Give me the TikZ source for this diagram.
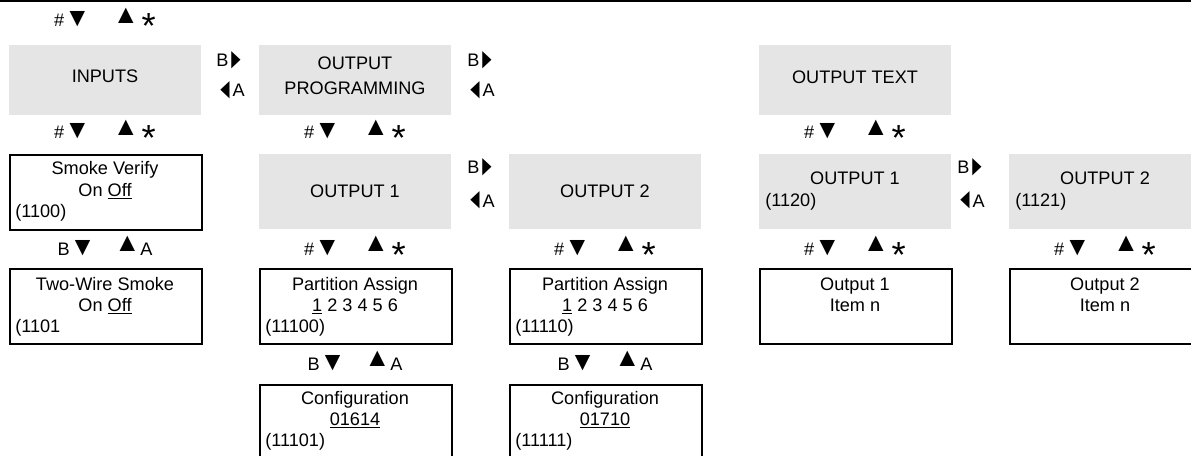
\documentclass[tikz,border=0pt]{standalone}
\usepackage{fontspec}
\setmainfont{Liberation Sans}
\usepackage{graphicx}
\usetikzlibrary{positioning}

\newcommand{\starkey}{\raisebox{-9pt}{\scalebox{2.0}{*}}}
\newcommand{\dnT}{\scalebox{1.45}{▼}}
\newcommand{\upT}{\raisebox{2.5pt}{\scalebox{1.45}{▲}}}
\newcommand{\rtT}{\raisebox{-1pt}{\scalebox{0.85}[1.6]{►}}}
\newcommand{\ltT}{\raisebox{-1pt}{\scalebox{0.85}[1.6]{◄}}}
\newcommand{\hashkeys}{\#\dnT\hspace{17pt}\upT\hspace{2pt}\starkey}
\newcommand{\bakeys}{B\dnT\hspace{14pt}\upT A}

\begin{document}
\begin{tikzpicture}[x=0.75pt,y=-0.75pt,font=\fontsize{13.6}{15.75}\selectfont,
  menu/.style={fill=gray!20,anchor=north west,minimum width=144pt,minimum height=56.25pt,inner sep=0pt},
  field/.style={draw,line width=1.5pt,anchor=north west,minimum width=144pt,minimum height=56.25pt,inner sep=0pt},
  ln/.style={anchor=base,inner sep=0pt},
  code/.style={anchor=base west,inner sep=0pt}]
\useasboundingbox (0,0) rectangle (1191,456);
\clip (0,0) rectangle (1191,456);
\coordinate (ruleL) at (0,1); \coordinate (ruleR) at (1191,1);
\draw[line width=2.25pt] (ruleL) -- (ruleR);
\node[ln] (k0) at (105,27) {\hashkeys};
% Top menu level.
\node[menu,minimum height=52.5pt] (inputs) at (9,45) {};
\node[ln] (inputsT) at (105,83) {INPUTS};
\node[menu,minimum height=52.5pt] (prog) at (259,45) {};
\node[ln] (progT) at (355,70) {OUTPUT};
\node[ln] (progU) at (355,95) {PROGRAMMING};
\node[menu,minimum height=52.5pt] (outtext) at (759,45) {};
\node[ln] (outtextT) at (855,84) {OUTPUT TEXT};
\node[code] (bA) at (216,67) {B\rtT}; \node[code] (aA) at (217,97) {\ltT A};
\node[code] (bB) at (467,67) {B\rtT}; \node[code] (aB) at (467,97) {\ltT A};
% Second level.
\node[ln] (k1) at (105,139) {\hashkeys};
\node[ln] (k2) at (355,139) {\hashkeys};
\node[ln] (k3) at (855,139) {\hashkeys};
\node[field] (smoke) at (9,154) {};
\node[ln] (smokeT) at (105,175) {Smoke Verify};
\node[ln] (smokeV) at (105,196) {On \underline{Off}};
\node[code] (smokeC) at (15,217) {(1100)};
\node[menu] (out1) at (259,154) {};
\node[ln] (out1T) at (355,197) {OUTPUT 1};
\node[code] (bC) at (467,174) {B\rtT}; \node[code] (aC) at (467,207) {\ltT A};
\node[menu] (out2) at (509,154) {};
\node[ln] (out2T) at (605,197) {OUTPUT 2};
\node[menu] (txt1) at (759,154) {};
\node[ln] (txt1T) at (855,185) {OUTPUT 1};
\node[code] (txt1C) at (765,206) {(1120)};
\node[code] (bD) at (957,174) {B\rtT}; \node[code] (aD) at (957,207) {\ltT A};
\node[menu] (txt2) at (1009,154) {};
\node[ln] (txt2T) at (1105,185) {OUTPUT 2};
\node[code] (txt2C) at (1015,206) {(1121)};
% Third level.
\node[ln] (k4) at (105,255) {\bakeys};
\node[ln] (k5) at (355,255) {\hashkeys};
\node[ln] (k6) at (605,255) {\hashkeys};
\node[ln] (k7) at (855,255) {\hashkeys};
\node[ln] (k8) at (1105,255) {\hashkeys};
\node[field] (wire) at (9,268) {};
\node[ln] (wireT) at (105,290) {Two-Wire Smoke};
\node[ln] (wireV) at (105,311) {On \underline{Off}};
\node[code] (wireC) at (15,332) {(1101};
\node[field] (part1) at (259,268) {};
\node[ln] (part1T) at (355,290) {Partition Assign};
\node[ln] (part1V) at (355,311) {\underline{1} 2 3 4 5 6};
\node[code] (part1C) at (265,332) {(11100)};
\node[field] (part2) at (509,268) {};
\node[ln] (part2T) at (605,290) {Partition Assign};
\node[ln] (part2V) at (605,311) {\underline{1} 2 3 4 5 6};
\node[code] (part2C) at (515,332) {(11110)};
\node[field] (item1) at (759,268) {};
\node[ln] (item1T) at (855,290) {Output 1};
\node[ln] (item1V) at (855,311) {Item n};
\node[field] (item2) at (1009,268) {};
\node[ln] (item2T) at (1105,290) {Output 2};
\node[ln] (item2V) at (1105,311) {Item n};
% Fourth level.
\node[ln] (k9) at (355,370) {\bakeys};
\node[ln] (k10) at (605,370) {\bakeys};
\node[field] (conf1) at (259,384) {};
\node[ln] (conf1T) at (355,404) {Configuration};
\node[ln] (conf1V) at (355,425) {\underline{01614}};
\node[code] (conf1C) at (265,446) {(11101)};
\node[field] (conf2) at (509,384) {};
\node[ln] (conf2T) at (605,404) {Configuration};
\node[ln] (conf2V) at (605,425) {\underline{01710}};
\node[code] (conf2C) at (515,446) {(11111)};
\end{tikzpicture}
\end{document}
